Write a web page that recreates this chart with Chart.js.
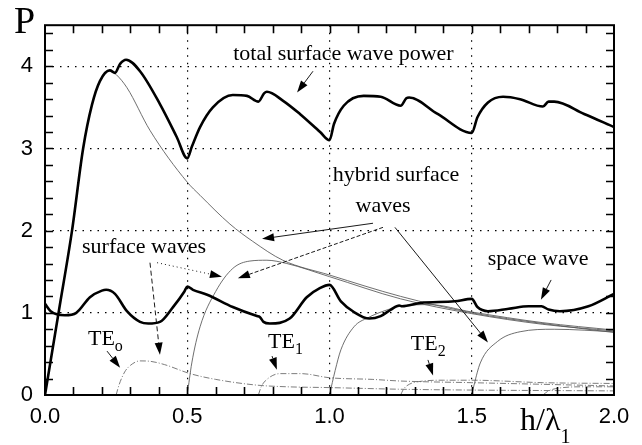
<!DOCTYPE html>
<html>
<head>
  <title>Surface wave power</title>
  <script src="https://cdn.jsdelivr.net/npm/chart.js@4.4.1/dist/chart.umd.min.js"></script>
  <style>
    body { margin: 0; background: #fff; }
    #wrap { width: 642px; height: 445px; }
  </style>
</head>
<body>
<div id="wrap">
  <canvas id="myChart"></canvas>
</div>
<script>
  // total surface wave power (thick)
  const totalX = [0, 0.05, 0.095, 0.134, 0.165, 0.193, 0.228, 0.246, 0.264, 0.285, 0.334, 0.404, 0.463, 0.5, 0.516, 0.545, 0.59, 0.66, 0.71, 0.75, 0.77, 0.78, 0.837, 0.896, 0.967, 1.0, 1.016, 1.05, 1.12, 1.18, 1.25, 1.27, 1.28, 1.38, 1.5, 1.52, 1.557, 1.61, 1.67, 1.75, 1.77, 1.79, 1.895, 2.0];
  const totalY = [0, 1.05, 2.0, 3.0, 3.53, 3.82, 3.95, 3.92, 4.03, 4.08, 3.94, 3.54, 3.14, 2.88, 3.02, 3.26, 3.5, 3.65, 3.64, 3.57, 3.67, 3.69, 3.58, 3.42, 3.2, 3.1, 3.3, 3.52, 3.64, 3.63, 3.52, 3.61, 3.62, 3.42, 3.19, 3.38, 3.56, 3.63, 3.6, 3.51, 3.57, 3.57, 3.42, 3.26];

  // space wave (thick)
  const spaceX = [0, 0.02, 0.07, 0.11, 0.158, 0.2, 0.215, 0.246, 0.288, 0.334, 0.363, 0.404, 0.45, 0.49, 0.5, 0.52, 0.57, 0.66, 0.745, 0.755, 0.768, 0.79, 0.86, 0.92, 0.966, 1.0, 1.04, 1.086, 1.14, 1.18, 1.216, 1.245, 1.255, 1.32, 1.44, 1.5, 1.52, 1.557, 1.63, 1.7, 1.745, 1.77, 1.81, 1.91, 2.0];
  const spaceY = [1.11, 1.02, 0.97, 1.0, 1.19, 1.27, 1.28, 1.23, 1.02, 0.89, 0.87, 0.89, 1.07, 1.26, 1.32, 1.28, 1.22, 1.07, 0.96, 0.95, 0.89, 0.87, 0.93, 1.19, 1.3, 1.34, 1.14, 1.01, 0.93, 0.96, 1.04, 1.09, 1.08, 1.12, 1.14, 1.17, 1.07, 1.02, 1.05, 1.08, 1.08, 1.04, 1.02, 1.08, 1.23];

  // hybrid surface waves (thin solid)
  const hybAX = [0, 0.05, 0.095, 0.134, 0.165, 0.193, 0.228, 0.25, 0.288, 0.369, 0.5, 0.545, 0.65, 0.73, 0.836, 1.0, 1.25, 1.5, 1.75, 2.0];
  const hybAY = [0, 1.05, 2.0, 3.0, 3.53, 3.82, 3.95, 3.9, 3.74, 3.22, 2.59, 2.43, 2.08, 1.87, 1.64, 1.46, 1.2, 1.0, 0.87, 0.76];
  const hybBX = [0.5, 0.516, 0.545, 0.6, 0.66, 0.72, 0.78, 0.85, 1.0, 1.25, 1.5, 1.75, 2.0];
  const hybBY = [0, 0.39, 0.83, 1.26, 1.54, 1.63, 1.64, 1.6, 1.44, 1.17, 0.99, 0.86, 0.78];
  const hybCX = [1.0, 1.02, 1.04, 1.086, 1.135, 1.206, 1.25, 1.35, 1.5, 1.75, 2.0];
  const hybCY = [0, 0.3, 0.55, 0.83, 0.94, 1.04, 1.08, 1.1, 1.01, 0.88, 0.79];
  const hybDX = [1.5, 1.508, 1.53, 1.59, 1.67, 1.79, 2.0];
  const hybDY = [0, 0.12, 0.39, 0.65, 0.77, 0.8, 0.77];

  // TE surface waves (thin dash-dot)
  const te0X = [0.25, 0.26, 0.28, 0.3, 0.334, 0.37, 0.42, 0.51, 0.6, 0.745, 0.85, 1.0, 1.25, 1.5, 2.0];
  const te0Y = [0, 0.12, 0.28, 0.36, 0.415, 0.41, 0.37, 0.26, 0.19, 0.12, 0.1, 0.09, 0.07, 0.06, 0.05];
  const te1X = [0.75, 0.76, 0.78, 0.826, 0.9, 1.0, 1.15, 1.25, 1.5, 2.0];
  const te1Y = [0, 0.1, 0.19, 0.26, 0.26, 0.21, 0.19, 0.17, 0.15, 0.11];
  const te2X = [1.25, 1.26, 1.28, 1.33, 1.4, 1.5, 1.75, 2.0];
  const te2Y = [0, 0.07, 0.13, 0.17, 0.18, 0.18, 0.15, 0.14];
  const te3X = [1.75, 1.77, 1.82, 1.9, 2.0];
  const te3Y = [0, 0.05, 0.09, 0.1, 0.1];

  // axis tick labels
  const xTickLabels = ['0.0', '0.5', '1.0', '1.5', '2.0'];
  const yTickLabels = ['0', '1', '2', '3', '4'];

  // annotation texts (data coordinates, centre / baseline)
  const noteText = ['total surface wave power', 'hybrid surface', 'waves', 'surface waves', 'space wave'];
  const noteX = [1.049, 1.234, 1.188, 0.348, 1.733];
  const noteY = [4.08, 2.61, 2.23, 1.73, 1.58];
  const teSub = ['o', '1', '2'];
  const teX = [0.151, 0.784, 1.286];
  const teY = [0.605, 0.57, 0.546];

  // arrows: from -> to (data coordinates)
  const arrowFromX = [0.942, 1.153, 1.188, 1.23, 0.369, 0.394, 0.218, 0.798, 1.346, 1.779];
  const arrowFromY = [3.94, 2.09, 2.04, 2.04, 1.61, 1.61, 0.534, 0.474, 0.427, 1.40];
  const arrowToX = [0.886, 0.763, 0.678, 1.557, 0.404, 0.622, 0.264, 0.815, 1.364, 1.743];
  const arrowToY = [3.68, 1.90, 1.42, 0.64, 0.49, 1.44, 0.332, 0.308, 0.237, 1.16];
  const arrowDash = [[], [], [4, 2], [], [5, 3], [1, 3], [], [], [], []];

  const pts = (xs, ys) => xs.map((x, i) => ({x: x, y: ys[i]}));
  const thick = {borderColor: '#000', borderWidth: 2.6};
  const thin = {borderColor: '#555', borderWidth: 0.85};
  const dashDot = {borderColor: '#666', borderWidth: 0.85, borderDash: [6, 2, 1, 2]};

  const datasets = [
    Object.assign({label: 'total surface wave power', data: pts(totalX, totalY)}, thick),
    Object.assign({label: 'space wave', data: pts(spaceX, spaceY)}, thick),
    Object.assign({label: 'hybrid A', data: pts(hybAX, hybAY)}, thin),
    Object.assign({label: 'hybrid B', data: pts(hybBX, hybBY)}, thin),
    Object.assign({label: 'hybrid C', data: pts(hybCX, hybCY)}, thin),
    Object.assign({label: 'hybrid D', data: pts(hybDX, hybDY)}, thin),
    Object.assign({label: 'TE0', data: pts(te0X, te0Y)}, dashDot),
    Object.assign({label: 'TE1', data: pts(te1X, te1Y)}, dashDot),
    Object.assign({label: 'TE2', data: pts(te2X, te2Y)}, dashDot),
    Object.assign({label: 'TE3', data: pts(te3X, te3Y)}, dashDot)
  ];

  const serif = '"Liberation Serif", "Times New Roman", serif';

  // frame, inward ticks, axis titles, notes and arrows
  const decor = {
    id: 'decor',
    afterDatasetsDraw(chart) {
      const ctx = chart.ctx;
      const a = chart.chartArea;
      const x = chart.scales.x, y = chart.scales.y;
      ctx.save();
      ctx.strokeStyle = '#000';
      ctx.lineWidth = 2;
      ctx.strokeRect(a.left, a.top, a.right - a.left, a.bottom - a.top);

      ctx.lineWidth = 1.6;
      ctx.beginPath();
      for (let i = 1; i < 20; i++) {
        const px = Math.round(x.getPixelForValue(i / 10)) + 0.5;
        ctx.moveTo(px, a.bottom); ctx.lineTo(px, a.bottom - 8);
        ctx.moveTo(px, a.top); ctx.lineTo(px, a.top + 8);
      }
      for (let i = 1; i <= 22; i++) {
        const py = Math.round(y.getPixelForValue(i / 5)) + 0.5;
        ctx.moveTo(a.left, py); ctx.lineTo(a.left + 8, py);
        ctx.moveTo(a.right, py); ctx.lineTo(a.right - 8, py);
      }
      ctx.stroke();

      // arrows
      for (let i = 0; i < arrowFromX.length; i++) {
        const x1 = x.getPixelForValue(arrowFromX[i]), y1 = y.getPixelForValue(arrowFromY[i]);
        const x2 = x.getPixelForValue(arrowToX[i]), y2 = y.getPixelForValue(arrowToY[i]);
        const ang = Math.atan2(y2 - y1, x2 - x1);
        const hl = 12, hw = 4;
        const bx = x2 - hl * Math.cos(ang), by = y2 - hl * Math.sin(ang);
        ctx.setLineDash(arrowDash[i]);
        ctx.lineWidth = 0.9;
        ctx.beginPath();
        ctx.moveTo(x1, y1); ctx.lineTo(bx, by);
        ctx.stroke();
        ctx.setLineDash([]);
        ctx.fillStyle = '#000';
        ctx.beginPath();
        ctx.moveTo(x2, y2);
        ctx.lineTo(bx + hw * Math.sin(ang), by - hw * Math.cos(ang));
        ctx.lineTo(bx - hw * Math.sin(ang), by + hw * Math.cos(ang));
        ctx.closePath();
        ctx.fill();
      }

      // notes
      ctx.fillStyle = '#000';
      ctx.textBaseline = 'alphabetic';
      ctx.textAlign = 'center';
      ctx.font = '22px ' + serif;
      noteText.forEach((t, i) => {
        ctx.fillText(t, x.getPixelForValue(noteX[i]), y.getPixelForValue(noteY[i]));
      });
      ctx.textAlign = 'left';
      teSub.forEach((s, i) => {
        const px = x.getPixelForValue(teX[i]), py = y.getPixelForValue(teY[i]);
        ctx.font = '22px ' + serif;
        ctx.fillText('TE', px, py);
        const w = ctx.measureText('TE').width;
        ctx.font = '16px ' + serif;
        ctx.fillText(s, px + w, py + 6);
      });

      // axis titles
      ctx.font = '38px ' + serif;
      ctx.fillText('P', 14, 33);
      ctx.font = '32px ' + serif;
      ctx.fillText('h/\u03bb', 520, 430);
      const hw2 = ctx.measureText('h/\u03bb').width;
      ctx.font = '20px ' + serif;
      ctx.fillText('1', 520 + hw2, 443);
      ctx.restore();
    }
  };

  new Chart(document.getElementById('myChart').getContext('2d'), {
    type: 'line',
    data: {datasets: datasets},
    options: {
      responsive: true,
      maintainAspectRatio: false,
      animation: false,
      layout: {padding: {top: 16, right: 28, left: 0, bottom: 0}},
      elements: {
        point: {radius: 0},
        line: {cubicInterpolationMode: 'monotone', fill: false}
      },
      plugins: {legend: {display: false}, tooltip: {enabled: false}},
      scales: {
        x: {
          type: 'linear',
          min: 0,
          max: 2,
          afterFit: s => { s.height = 50; },
          ticks: {
            stepSize: 0.5,
            color: '#000',
            padding: 9,
            font: {family: '"Liberation Sans", Arial, sans-serif', size: 22},
            callback: v => xTickLabels[Math.round(v * 2)]
          },
          grid: {
            drawTicks: false,
            lineWidth: 1.2,
            color: c => (c.tick && c.tick.value > 0 && c.tick.value < 2) ? '#000' : 'rgba(0,0,0,0)'
          },
          border: {display: false, dash: [1.5, 6]}
        },
        y: {
          type: 'linear',
          min: 0,
          max: 4.5,
          afterFit: s => { s.width = 45; },
          ticks: {
            stepSize: 1,
            color: '#000',
            padding: 12,
            font: {family: '"Liberation Sans", Arial, sans-serif', size: 22},
            callback: v => Number.isInteger(v) ? yTickLabels[v] : ''
          },
          grid: {
            drawTicks: false,
            lineWidth: 1.2,
            color: c => (c.tick && Number.isInteger(c.tick.value) && c.tick.value > 0) ? '#000' : 'rgba(0,0,0,0)'
          },
          border: {display: false, dash: [1.5, 6]}
        }
      }
    },
    plugins: [decor]
  });
</script>
</body>
</html>
